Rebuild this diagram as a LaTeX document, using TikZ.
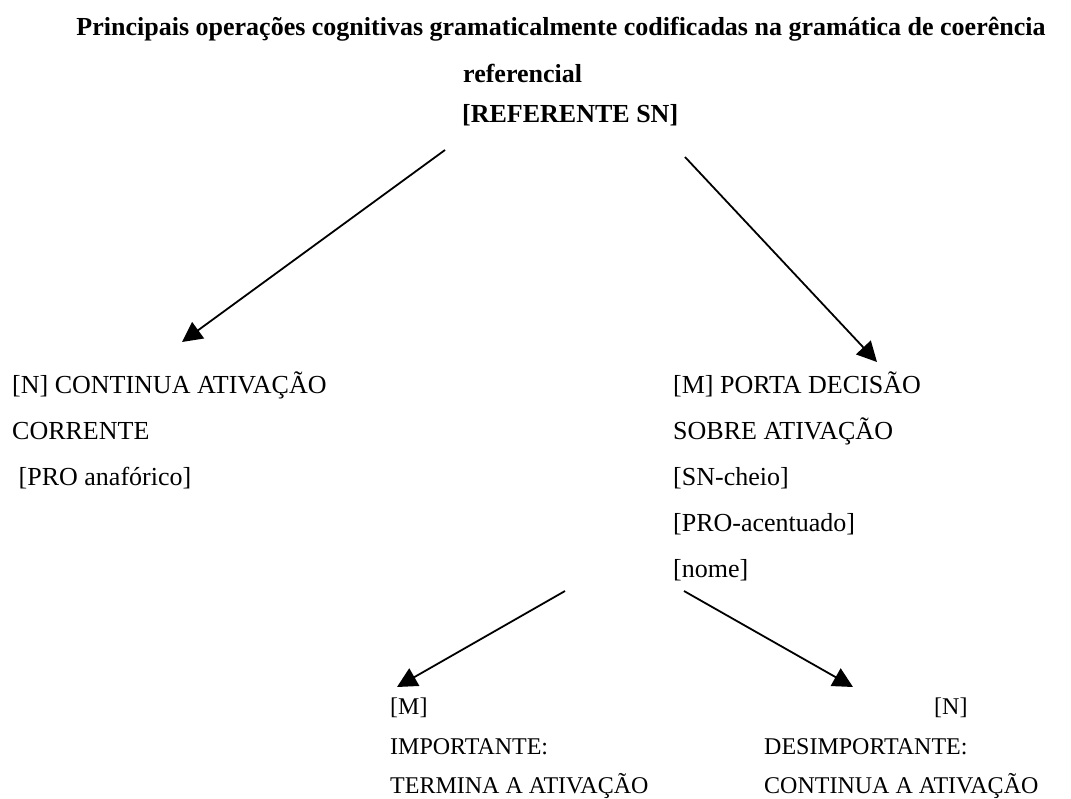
\documentclass[tikz,border=0pt]{standalone}
\usepackage{fontspec}
\setmainfont{Liberation Serif}
\usetikzlibrary{arrows.meta}
\begin{document}
\begin{tikzpicture}[x=1pt,y=-1pt,
  txt/.style={inner sep=0pt, anchor=base west, font=\fontsize{26}{30}\selectfont},
  txtb/.style={inner sep=0pt, anchor=base west, font=\fontsize{24}{28}\selectfont},
  ttl/.style={inner sep=0pt, font=\bfseries\fontsize{26}{30}\selectfont},
  arr/.style={line width=1.8pt, -{Triangle[length=20pt,width=20pt]}}]
\useasboundingbox (0,0) rectangle (1071,798);
% title
\node[ttl, anchor=base] (t1) at (561,35) {Principais operações cognitivas gramaticalmente codificadas na gramática de coerência};
\node[ttl, anchor=base west] (t2) at (463,82) {referencial};
\node[ttl, anchor=base west] (ref) at (462,122) {[REFERENTE SN]};
% left column
\node[txt] (n1) at (12,393) {[N] CONTINUA ATIVAÇÃO};
\node[txt] (n2) at (12,439) {CORRENTE};
\node[txt] (n3) at (18.5,485) {[PRO anafórico]};
% right column
\node[txt] (m1) at (673,393) {[M] PORTA DECISÃO};
\node[txt] (m2) at (673,439) {SOBRE ATIVAÇÃO};
\node[txt] (m3) at (673,485) {[SN-cheio]};
\node[txt] (m4) at (673,531) {[PRO-acentuado]};
\node[txt] (m5) at (673,577) {[nome]};
% bottom left
\node[txtb] (b1) at (390,714) {[M]};
\node[txtb] (b2) at (390,754) {IMPORTANTE:};
\node[txtb] (b3) at (390,793) {TERMINA A ATIVAÇÃO};
% bottom right
\node[txtb] (c2) at (764,754) {DESIMPORTANTE:};
\node[txtb] (c3) at (764,793) {CONTINUA A ATIVAÇÃO};
\node[txtb, anchor=base east] (c1) at (c2.base east |- b1.base) {[N]};
% arrow ends
\coordinate (a1s) at (445,150);
\coordinate (a1e) at (182,342);
\coordinate (a2s) at (685,157);
\coordinate (a2e) at (877,362);
\coordinate (a3s) at (565,591);
\coordinate (a3e) at (397,687);
\coordinate (a4s) at (684,591);
\coordinate (a4e) at (853,687);
\draw[arr] (a1s) -- (a1e);
\draw[arr] (a2s) -- (a2e);
\draw[arr] (a3s) -- (a3e);
\draw[arr] (a4s) -- (a4e);
\end{tikzpicture}
\end{document}
